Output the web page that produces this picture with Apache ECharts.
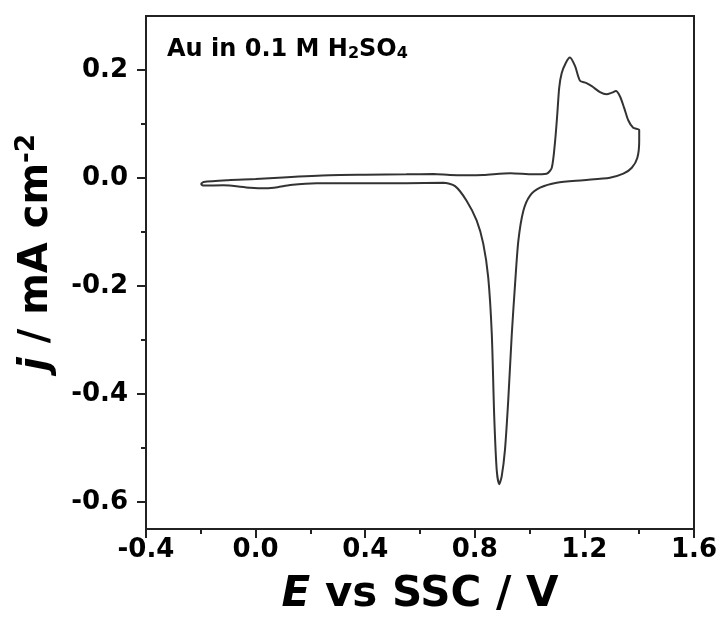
<!DOCTYPE html>
<html><head><meta charset="utf-8">
<script src="https://cdn.jsdelivr.net/npm/echarts@6/dist/echarts.min.js"></script>
<style>html,body{margin:0;padding:0;background:#fff}#c{width:721px;height:618px}</style>
</head><body><div id="c"></div><script>
// Forward (anodic) scan
const forwardE = [-0.20, -0.19, -0.10, 0.00, 0.10, 0.27, 0.40, 0.55, 0.649, 0.709, 0.77, 0.831, 0.93, 1.013, 1.062,
  1.081, 1.093, 1.101, 1.108, 1.117, 1.132, 1.147, 1.166, 1.184, 1.206, 1.227, 1.257, 1.281, 1.300, 1.315, 1.330,
  1.345, 1.360, 1.378, 1.400];
const forwardJ = [-0.011, -0.0074, -0.004, -0.002, 0.001, 0.005, 0.006, 0.0068, 0.0074, 0.0055, 0.005, 0.0055, 0.0087, 0.0068, 0.008,
  0.019, 0.068, 0.118, 0.167, 0.194, 0.213, 0.223, 0.207, 0.180, 0.176, 0.170, 0.159, 0.155, 0.158, 0.161, 0.151,
  0.130, 0.107, 0.093, 0.089];
// Reverse (cathodic) scan
const reverseE = [1.400, 1.393, 1.373, 1.342, 1.293, 1.196, 1.099, 1.038, 1.001, 0.977, 0.959, 0.947, 0.935, 0.922,
  0.910, 0.898, 0.889, 0.880, 0.871, 0.862, 0.849, 0.831, 0.807, 0.770, 0.728, 0.685, 0.55, 0.466, 0.35, 0.223,
  0.126, 0.08, 0.040, -0.020, -0.118, -0.191, -0.20];
const reverseJ = [0.068, 0.037, 0.019, 0.008, 0.0006, -0.004, -0.0087, -0.018, -0.033, -0.061, -0.116, -0.196, -0.289, -0.412,
  -0.504, -0.553, -0.567, -0.541, -0.443, -0.289, -0.184, -0.122, -0.079, -0.042, -0.015, -0.0087, -0.0095, -0.0098, -0.0098, -0.0098,
  -0.013, -0.017, -0.019, -0.018, -0.0135, -0.014, -0.011];

const xTickValues = [-0.4, 0.0, 0.4, 0.8, 1.2, 1.6];
const yTickValues = [-0.6, -0.4, -0.2, 0.0, 0.2];
const yMinorTickValues = [-0.5, -0.3, -0.1, 0.1];

const FONT = 'DejaVu Sans';
const curve = [];
forwardE.forEach((e, i) => curve.push([e, forwardJ[i]]));
reverseE.forEach((e, i) => curve.push([e, reverseJ[i]]));

const chart = echarts.init(document.getElementById('c'), null, {renderer: 'canvas'});
chart.setOption({
  animation: false,
  backgroundColor: '#fff',
  grid: {left: 146, right: 27, top: 16, bottom: 89, show: true, borderColor: '#222', borderWidth: 2,
    backgroundColor: 'transparent', outerBoundsMode: 'none', containLabel: false},
  xAxis: [{
    type: 'value', min: xTickValues[0], max: xTickValues[xTickValues.length - 1], interval: 0.4,
    position: 'bottom',
    axisLine: {show: false, onZero: false},
    axisTick: {show: true, length: 9, lineStyle: {color: '#222', width: 2}},
    minorTick: {show: true, splitNumber: 2, length: 5, lineStyle: {color: '#222', width: 2}},
    splitLine: {show: false}, minorSplitLine: {show: false},
    axisLabel: {margin: 8, fontFamily: FONT, fontWeight: 'bold', fontSize: 26, color: '#000',
      formatter: v => v.toFixed(1)},
    name: '{i|E}{n| vs SSC / V}', nameLocation: 'middle', nameGap: 45,
    nameTextStyle: {fontFamily: FONT, fontWeight: 'bold', fontSize: 42, color: '#000',
      rich: {i: {fontFamily: FONT, fontWeight: 'bold', fontStyle: 'italic', fontSize: 42, color: '#000'},
             n: {fontFamily: FONT, fontWeight: 'bold', fontSize: 42, color: '#000'}}}
  }],
  yAxis: [{
    type: 'value', min: -0.65, max: 0.3, position: 'left',
    axisLine: {show: false, onZero: false},
    axisTick: {show: true, length: 9, customValues: yTickValues, lineStyle: {color: '#222', width: 2}},
    splitLine: {show: false},
    axisLabel: {margin: 18, customValues: yTickValues, fontFamily: FONT, fontWeight: 'bold', fontSize: 26, color: '#000',
      formatter: v => Number(v).toFixed(1)},
    name: '{i|j}{n| / mA cm}{s|-2}', nameLocation: 'middle', nameGap: 86, nameRotate: 90,
    nameTextStyle: {fontFamily: FONT, fontWeight: 'bold', fontSize: 40, color: '#000', padding: [0, 0, 0, 40],
      rich: {i: {fontFamily: FONT, fontWeight: 'bold', fontStyle: 'italic', fontSize: 40, color: '#000', lineHeight: 46},
             n: {fontFamily: FONT, fontWeight: 'bold', fontSize: 40, color: '#000', lineHeight: 46},
             s: {fontFamily: FONT, fontWeight: 'bold', fontSize: 26, color: '#000', verticalAlign: 'top', lineHeight: 20}}}
  }, {
    type: 'value', min: -0.65, max: 0.3, position: 'right', offset: -548,
    axisLine: {show: false, onZero: false},
    axisTick: {show: true, inside: true, length: 5, customValues: yMinorTickValues, lineStyle: {color: '#222', width: 2}},
    splitLine: {show: false},
    axisLabel: {show: false}
  }],
  graphic: [{
    type: 'text', left: 167, top: 38, silent: true,
    style: {
      text: '{a|Au in 0.1 M H}{s|2}{a|SO}{s|4}',
      rich: {
        a: {fontFamily: FONT, fontWeight: 'bold', fontSize: 24, fill: '#000', lineHeight: 24},
        s: {fontFamily: FONT, fontWeight: 'bold', fontSize: 16, fill: '#000', lineHeight: 8, verticalAlign: 'bottom'}
      }
    }
  }],
  series: [{
    type: 'line', data: curve, xAxisIndex: 0, yAxisIndex: 0,
    showSymbol: false, smooth: 0.25,
    lineStyle: {color: '#333', width: 2}
  }]
});
</script></body></html>
